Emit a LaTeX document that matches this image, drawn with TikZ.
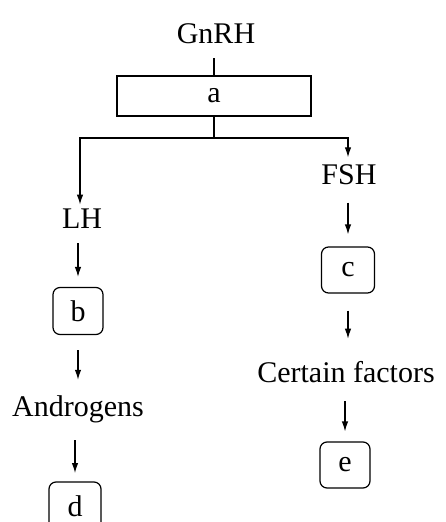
\documentclass[tikz,border=0pt]{standalone}
\usepackage{fontspec}
\setmainfont{Liberation Serif}
\usetikzlibrary{arrows.meta,calc}
\begin{document}
\begin{tikzpicture}[x=1pt,y=-1pt,
  every node/.style={font=\fontsize{30}{32}\selectfont, inner sep=0pt},
  line width=1.2pt,
  arr/.style={-{Latex[length=10pt,width=6.5pt]}},
  rbox/.style={draw, rounded corners=7pt, minimum width=50pt, minimum height=47pt}]
\useasboundingbox (0,0) rectangle (445,522);
\clip (0,0) rectangle (445,522);
% top
\node (gnrh) at (216,33.5) {GnRH};
\node[draw, minimum width=194pt, minimum height=40pt] (a) at (214,96) {a};
\coordinate (j) at (214,138);
\coordinate (l) at (80,138);
\coordinate (r) at (348,138);
% left column
\node (lh) at (82,219) {LH};
\node[rbox] (b) at (78,311) {b};
\node (andr) at (78,409) {Androgens};
\node (d) at (75,506) {d};
\draw[rounded corners=7pt] ($(d.center)+(-26,-24)$) rectangle ($(d.center)+(26,26)$);
% right column
\node (fsh) at (349,175) {FSH};
\node[rbox, minimum width=53pt, minimum height=46pt] (c) at (348,270) {c};
\node (cf) at (346,372) {Certain factors};
\node[rbox, minimum height=46pt] (e) at (345,465) {e};
% connectors
\draw[shorten <=14pt] (gnrh.south -| a.north) -- (a.north);
\draw (a.south) -- (j);
\draw[arr, shorten >=4pt] (j) -- (l) -- (l |- lh.north);
\draw[arr, shorten >=7pt] (j) -- (r) -- (r |- fsh.north);
\draw[arr, shorten <=14pt, shorten >=10pt] (lh.south -| b.north) -- (b.north);
\draw[arr, shorten <=15pt, shorten >=15pt] (b.south) -- (b.south |- andr.north);
\draw[arr, shorten <=17pt, shorten >=9pt] (andr.south -| d.north) -- ($(d.center)+(0,-24)$);
\draw[arr, shorten <=17pt, shorten >=12pt] (fsh.south -| c.north) -- (c.north);
\draw[arr, shorten <=17pt, shorten >=22pt] (c.south) -- (c.south |- cf.north);
\draw[arr, shorten <=18pt, shorten >=10pt] (cf.south -| e.north) -- (e.north);
\end{tikzpicture}
\end{document}
